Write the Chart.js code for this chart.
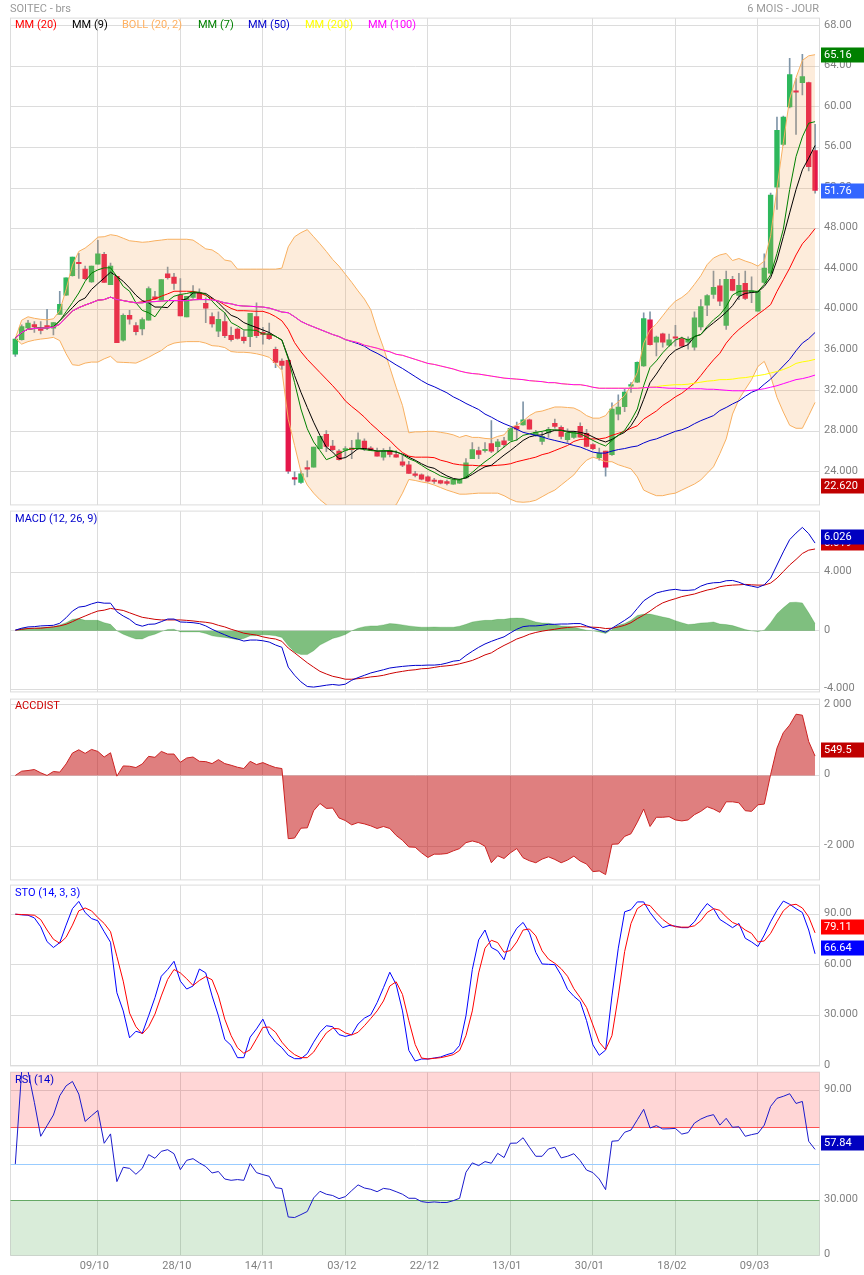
<!DOCTYPE html>
<html>
<head>
<meta charset="utf-8">
<title>SOITEC - brs</title>
<script src="https://cdn.jsdelivr.net/npm/chart.js@4"></script>
<style>
  html, body { margin: 0; padding: 0; background: #fff; overflow: hidden; }
  body { position: relative; width: 864px; height: 1275px; font: 11px Roboto, sans-serif; }
  canvas { position: absolute; left: 0; }
  .txt { position: absolute; line-height: 14px; white-space: nowrap; z-index: 5; }
</style>
</head>
<body>
<div class="txt" style="left:10px;top:2px;color:#999">SOITEC - brs</div>
<div class="txt" style="right:45px;top:2px;color:#999">6 MOIS - JOUR</div>

<div class="txt" style="left:15px;top:18px;color:#ff0000">MM (20)</div>
<div class="txt" style="left:72px;top:18px;color:#000000">MM (9)</div>
<div class="txt" style="left:122px;top:18px;color:#ffb060">BOLL (20, 2)</div>
<div class="txt" style="left:198px;top:18px;color:#008000">MM (7)</div>
<div class="txt" style="left:248px;top:18px;color:#0000cc">MM (50)</div>
<div class="txt" style="left:305px;top:18px;color:#ffff00">MM (200)</div>
<div class="txt" style="left:368px;top:18px;color:#ff00ff">MM (100)</div>

<div class="txt" style="left:15px;top:512px;color:#0000cc">MACD (12, 26, 9)</div>
<div class="txt" style="left:15px;top:699px;color:#cc0000">ACCDIST</div>
<div class="txt" style="left:15px;top:886px;color:#0000ff">STO (14, 3, 3)</div>
<div class="txt" style="left:15px;top:1073px;color:#0000cc">RSI (14)</div>

<canvas id="priceChart"></canvas>
<canvas id="macdChart"></canvas>
<canvas id="accChart"></canvas>
<canvas id="stoChart"></canvas>
<canvas id="rsiChart"></canvas>

<script>
// ================= X AXIS =================
const sessions = [
  0,1,2,3,4,5,6,7,8,9,10,11,12,13,14,15,16,17,18,19,20,21,22,23,24,25,26,27,28,29,
  30,31,32,33,34,35,36,37,38,39,40,41,42,43,44,45,46,47,48,49,50,51,52,53,54,55,56,57,58,59,
  60,61,62,63,64,65,66,67,68,69,70,71,72,73,74,75,76,77,78,79,80,81,82,83,84,85,86,87,88,89,
  90,91,92,93,94,95,96,97,98,99,100,101,102,103,104,105,106,107,108,109,110,111,112,113,114,115,116,117,118,119,
  120,121,122,123,124,125,126
];
const dateTicks = [13, 26, 39, 52, 65, 78, 91, 104, 117];
const dateLabels = ["09/10", "28/10", "14/11", "03/12", "22/12", "13/01", "30/01", "18/02", "09/03"];

// ================= PRICE =================
const opens = [
  35.6,37.04,38.2,38.54,38.08,38.44,38.18,39.54,41.43,43.35,
  44.68,44,42.73,44.5,45.46,42.47,43.28,37,39.45,38.44,
  38.11,38.96,41.27,40.94,43.54,43.22,41.43,39.28,41.2,41.66,
  40.62,39.32,37.89,38.83,37.46,38.08,37.3,37.33,39.32,37.76,
  37.6,36.1,34.93,35,23.44,22.95,24.42,24.46,26.3,27.7,
  26.55,26.05,26.15,26.35,26.3,27.04,26.35,25.99,25.44,26.1,
  25.7,24.98,24.69,23.8,23.7,23.5,23.18,23.15,23.05,22.79,
  22.89,23.4,25.3,26.1,26.1,26.8,26.48,27.07,27.1,28.5,
  28.64,29.13,27.6,27,27.85,28.8,28.4,27.17,27.4,28.5,
  27.8,26.68,25.4,26.05,25.7,29.7,30.44,32.45,32.85,34.46,
  39,36.8,37.63,36.5,37.33,37.15,36.8,36.3,38.3,40.45,
  41.5,42.35,38.45,43,41.4,42.6,41.7,39.85,42.7,43.6,
  52.1,56.3,60,61.6,62.4,62.4,55.7
];
const closes = [
  37.1,38.34,38.67,38.3,37.95,38.28,38.73,40.52,43.15,45.2,
  44.55,43.06,44.3,45.5,42.7,44.3,36.75,39.45,39.06,37.82,
  39.02,42.08,41.07,42.96,43.15,42.6,39.38,41.33,41.72,41.07,
  40.16,38.6,39.06,37.43,37.04,37.17,36.94,39.64,37.43,37.56,
  37.14,34.8,34.5,24.07,23.28,23.8,24.26,26.45,27.5,26.5,
  26.2,25.2,26.3,26.2,27.15,26.3,26.15,25.54,26,25.73,
  25.44,24.65,23.84,23.66,23.28,23.08,23.06,22.89,22.85,23.18,
  23.2,24.9,26.2,25.73,26.22,26.05,26.97,26.68,28.3,28.2,
  29.13,28.2,27.9,27.5,28.2,28.48,27.5,27.8,27.9,27.43,
  26.5,26.3,25.86,24.46,30.2,30.4,31.88,32.6,34.8,39.13,
  36.55,37.3,36.8,37.03,37.2,36.4,37.1,39.2,40.3,41.4,
  42.2,40.85,43,41.9,42.4,41.1,41.85,41.8,44.1,51.3,
  57.7,59,63.2,61.45,63,54.1,51.76
];
const highs = [
  37.15,38.5,38.96,38.83,38.83,40.03,38.73,41.82,43.15,45.2,
  45.56,44.3,44.3,46.84,45.66,44.6,43.28,39.6,39.93,38.73,
  39.2,42.25,41.82,42.96,44.2,43.6,43.06,41.33,42.37,42.05,
  41.17,39.7,39.8,39.7,38.28,38.2,37.92,39.64,40.68,38.25,
  38.67,36.3,35.15,35,24,24.1,25.08,26.45,27.5,28.08,
  27.1,26.2,26.5,27.1,27.85,27.25,26.5,26.35,26.3,26.45,
  26.1,25.63,25.05,24.06,23.8,23.6,23.35,23.2,23.18,23.25,
  23.3,25.3,26.9,26.45,26.9,29.05,27.2,27.4,28.35,28.9,
  30.9,29.2,28.1,27.9,28.4,29.2,28.55,28.25,28,28.84,
  28.2,26.8,26.35,26.05,30.8,31.6,32.2,32.8,34.85,39.7,
  39.8,37.4,37.7,37.6,38.45,37.3,37.33,39.8,41,41.5,
  43.8,43,43.8,43.3,43.6,43.8,43.25,41.85,45.5,51.5,
  59,59.1,64.8,62.8,65.2,62.45,58.3
];
const lows = [
  35.4,37,38.08,37.76,37.6,38.02,37.5,39.54,41.4,43.3,
  43.09,42.96,42.7,44.5,42.7,42.47,36.75,36.9,38.57,37.5,
  37.5,38.96,41,40.94,43,42,39.38,39.28,41.1,41,
  38.73,38.28,37.33,37.24,36.9,37.1,36.7,36.36,37.24,36.6,
  37.04,34.28,34.1,23.84,22.7,22.85,23.5,24.46,26.3,26,
  26.1,25.15,25.4,25.3,26.2,26.1,26.1,25.54,25.15,25.47,
  25.44,24.5,23.84,23.5,23.2,23,22.85,22.8,22.7,22.75,
  22.85,23.35,25.3,25.3,25.95,25.9,25.95,26.45,27.1,27.1,
  28.6,28.2,27.5,26.7,27.4,28.3,27.25,26.9,27.3,27.4,
  26.45,26.2,25.15,23.57,25.63,29.13,29.95,31.85,32.8,34.4,
  36.5,35.45,36.3,36.4,36.4,36.3,36.1,36,38,39.4,
  41.1,40.4,38.05,41.85,41,41,40.7,39.85,42.6,43.5,
  49.9,56.2,59.9,57.3,61.2,53.7,51.5
];
const mm7 = [
  37.17,37.75,38.08,38.15,38.2,38.2,38.34,38.9,39.8,40.7,
  41.65,42.8,43.6,43.93,44.13,44.13,43.28,42.3,41.82,40.68,
  39.93,39.7,39.3,40.2,40.85,41.33,41.5,41.6,41.75,41.72,
  41.5,40.85,40.2,39.7,38.73,38.4,38,38,37.95,37.6,
  37.6,37.37,37,35.15,32.8,30.2,28.25,26.95,26.1,25.2,
  25.45,25.8,26.1,26.3,26.3,26.2,26.1,26.05,26.1,26.1,
  26,25.7,25.3,25.05,24.65,24.25,23.95,23.6,23.4,23.25,
  23.2,23.5,23.95,24.5,25,25.45,25.95,26.45,26.95,27.15,
  27.6,27.75,27.9,28,28.15,28.15,28.1,27.9,27.85,27.75,
  27.45,27.1,26.8,26.55,27.1,27.6,28.1,29.05,30.2,32.5,
  34.3,34.95,35.75,36.4,37,37.25,37,37.35,37.55,38.35,
  39,39.5,40.3,41.45,41.8,41.85,41.85,41.8,42.5,43.45,
  45.55,47.95,51.85,55.1,57.05,58.4,58.55
];
const mm9 = [
  37.17,37.75,38.08,38.15,38.2,38.2,38.3,38.9,39.55,40.2,
  40.85,41.15,42,42.57,43.12,43.7,43.28,42.8,42.15,41.43,
  40.9,40.68,40.26,40.26,40.2,40.9,40.9,41.07,41.66,41.66,
  41.6,41.17,40.68,40.03,39.45,39.2,38.73,38.47,38.24,38,
  37.75,37.37,37,35.3,33.5,31.85,30.35,28.9,27.6,26.45,
  25.95,25.3,25.4,25.8,26.3,26.3,26.2,26.05,26.05,26.05,
  25.95,25.75,25.45,25.15,24.8,24.5,24.35,23.95,23.6,23.35,
  23.25,23.4,23.75,24.15,24.5,24.65,25.15,25.65,26.1,26.6,
  27.1,27.45,27.6,27.65,27.9,28.1,28.1,28,28,27.9,
  27.75,27.45,27.15,26.95,27.2,27.6,27.9,28.55,29.55,31.15,
  32.8,33.65,34.6,35.45,36,36.3,36.55,37.35,37.55,38.2,
  38.7,39.2,39.75,40.4,41.3,41.6,41.7,41.75,42.3,43.15,
  44.9,47.2,49.55,51.85,53.8,54.95,56.2
];
const mm20 = [
  37.17,37.75,38.08,38.15,38.18,38.2,38.28,38.57,39.22,39.87,
  40.2,40.46,40.68,40.94,41,41.24,41,40.9,40.78,40.68,
  40.78,40.9,41.07,41.33,41.56,41.82,41.82,41.82,41.8,41.66,
  41.4,41.07,40.85,40.46,40.13,39.9,39.9,39.87,39.84,39.84,
  39.64,39.32,38.9,38.05,36.75,35.85,35.1,34.45,33.8,33.15,
  32.5,31.8,31,30.45,29.95,29.4,28.75,28.2,27.6,27.1,
  26.45,25.9,25.55,25.45,25.45,25.45,25.4,25.15,25,24.8,
  24.7,24.65,24.65,24.6,24.6,24.6,24.65,24.7,24.8,25,
  25.15,25.3,25.45,25.7,25.85,26.1,26.35,26.6,27,27.2,
  27.25,27.25,27.25,27.35,27.6,27.8,28,28.3,28.55,29.2,
  29.6,30,30.55,30.95,31.4,31.75,32.25,32.75,33.5,34.3,
  35.05,35.7,36.7,37.45,38.05,38.55,39.05,39.55,40,40.5,
  41.8,42.95,44.1,45.4,46.5,47.2,48
];
const mm50 = [
  37.17,37.75,38.08,38.15,38.18,38.2,38.28,38.57,39.22,39.87,
  40.2,40.46,40.68,40.94,41,41.24,41,40.9,40.78,40.68,
  40.68,40.78,40.8,40.85,40.9,40.9,40.9,40.88,40.98,41,
  41,40.98,40.85,40.68,40.58,40.42,40.36,40.33,40.3,40.26,
  40.16,39.97,39.77,39.7,39.3,38.85,38.55,38.3,38.05,37.8,
  37.55,37.35,37.05,36.85,36.65,36.4,36,35.7,35.35,34.95,
  34.55,34.2,33.8,33.4,33,32.65,32.4,32.1,31.8,31.4,
  31.1,30.75,30.45,30.15,29.7,29.4,29.05,28.75,28.5,28.2,
  27.9,27.75,27.6,27.45,27.25,27.1,26.95,26.8,26.6,26.45,
  26.2,25.95,25.85,25.85,26.05,26.2,26.3,26.45,26.55,26.85,
  27.1,27.25,27.5,27.75,28,28.15,28.4,28.75,29.05,29.3,
  29.55,30.05,30.35,30.7,31,31.45,31.85,32.1,32.65,33.15,
  33.8,34.45,35.1,35.95,36.7,37.15,37.75
];
const mm100 = [
  37.17,37.75,38.08,38.15,38.18,38.2,38.28,38.57,39.22,39.87,
  40.2,40.46,40.68,40.94,41,41.24,41,40.9,40.78,40.68,
  40.68,40.78,40.8,40.85,40.9,40.9,40.9,40.88,40.98,41,
  41,40.98,40.85,40.68,40.58,40.42,40.36,40.33,40.3,40.26,
  40.16,39.97,39.77,39.7,39.3,38.85,38.55,38.3,38.05,37.8,
  37.55,37.35,37.05,36.9,36.75,36.5,36.35,36.2,36,35.85,
  35.6,35.5,35.3,35.1,34.9,34.7,34.6,34.45,34.3,34.15,
  33.95,33.8,33.7,33.65,33.55,33.45,33.35,33.25,33.2,33.15,
  33.1,33,32.95,32.9,32.8,32.8,32.7,32.65,32.6,32.6,
  32.5,32.35,32.25,32.25,32.25,32.25,32.25,32.25,32.25,32.3,
  32.35,32.35,32.3,32.25,32.25,32.2,32.2,32.2,32.2,32.15,
  32.15,32.1,32.05,32,32,32,32.05,32.1,32.2,32.35,
  32.5,32.7,32.9,33.1,33.2,33.35,33.55
];
const mm200 = [
  37.17,37.75,38.08,38.15,38.18,38.2,38.28,38.57,39.22,39.87,
  40.2,40.46,40.68,40.94,41,41.24,41,40.9,40.78,40.68,
  40.68,40.78,40.8,40.85,40.9,40.9,40.9,40.88,40.98,41,
  41,40.98,40.85,40.68,40.58,40.42,40.36,40.33,40.3,40.26,
  40.16,39.97,39.77,39.7,39.3,38.85,38.55,38.3,38.05,37.8,
  37.55,37.35,37.05,36.9,36.75,36.5,36.35,36.2,36,35.85,
  35.6,35.5,35.3,35.1,34.9,34.7,34.6,34.45,34.3,34.15,
  33.95,33.8,33.7,33.65,33.55,33.45,33.35,33.25,33.2,33.15,
  33.1,33,32.95,32.9,32.8,32.8,32.7,32.65,32.6,32.6,
  32.5,32.35,32.25,32.25,32.25,32.25,32.25,32.25,32.25,32.3,
  32.35,32.4,32.5,32.55,32.6,32.6,32.65,32.75,32.85,32.95,
  33,33.1,33.1,33.15,33.25,33.3,33.4,33.5,33.6,33.75,
  33.9,34.1,34.35,34.7,34.85,34.95,35.1
];
const bollUp = [
  37.17,38.96,39.3,39.15,39.05,39,39.1,39.9,42,44.4,
  45.75,46.08,46.57,47.16,47.2,47.4,47.3,47.05,46.8,46.73,
  46.65,46.7,46.8,46.87,46.95,46.95,46.95,46.95,46.87,46.45,
  46,45.9,45.5,44.9,44.78,44,44,44,44,44,
  44,44,44.1,46.2,47.2,47.6,47.9,47.2,46.5,45.75,
  44.95,44.3,43.5,42.7,41.85,41.05,40,38,36.25,34.3,
  32.35,30.55,27.85,27.95,27.95,28,28,27.9,27.8,27.65,
  27.4,27.6,27.4,27.4,27.3,27.25,27.5,27.65,28.4,28.6,
  29,29.55,29.9,30,30.2,30.4,30.4,30.35,30.3,30,
  29.55,29.3,29.3,29.55,30.4,30.9,31.55,32.5,33.8,36.7,
  38,38.6,39.4,40.2,40.85,41.2,41.7,42.5,43.35,44.45,
  45.1,45.4,45.55,44.85,45.05,44.8,44.6,44.3,44.8,47.3,
  52,56.5,60.8,62.9,64.6,65.05,65.16
];
const bollLow = [
  37.17,36.6,36.85,37,37.1,37.17,37.27,36.95,35.65,34.57,
  34.5,34.73,34.83,34.83,35.15,35.4,34.83,34.8,34.77,34.73,
  35,35.3,35.65,35.97,36.45,36.7,36.8,36.85,36.85,36.85,
  36.7,36.45,36.4,36.26,35.87,35.8,35.8,35.75,35.65,35.5,
  35.3,34.67,34,29.2,26.6,24,22.7,21.9,21.25,20.75,
  20.3,20,19.7,19.6,19.8,20,20.1,20.2,20.3,20.4,
  20.75,21.9,23.25,23.15,23,22.9,22.7,22.45,22.2,22,
  21.8,21.8,21.85,21.9,21.9,21.9,21.9,21.65,21.3,21.05,
  21,21.05,21.2,21.55,21.9,22.2,22.7,23.2,23.7,24.5,
  25.15,25.45,25.25,25,25,24.7,24.5,24.3,23.5,22.2,
  21.9,21.65,21.65,21.8,21.9,22.2,22.5,22.8,23.2,23.85,
  24.5,25.8,27.25,29.7,31.15,32.15,33.1,34.4,34.9,33.45,
  31.35,29.9,28.6,28.3,28.3,29.55,30.85
];
const priceTicks = [68, 64, 60, 56, 52, 48, 44, 40, 36, 32, 28, 24];
const priceLabels = ["68.00", "64.00", "60.00", "56.00", "52.00", "48.000", "44.000", "40.000", "36.000", "32.000", "28.000", "24.000"];

// ================= MACD =================
const macdLine = [
  0.05,0.18,0.27,0.29,0.34,0.36,0.38,0.52,0.9,1.36,
  1.63,1.69,1.85,1.97,1.9,1.9,1.31,1.02,0.79,0.45,
  0.32,0.45,0.47,0.63,0.81,0.81,0.61,0.59,0.56,0.5,
  0.34,0.11,-0.09,-0.27,-0.45,-0.56,-0.7,-0.63,-0.63,-0.68,
  -0.77,-0.97,-1.13,-2.49,-3.05,-3.5,-3.82,-3.86,-3.8,-3.73,
  -3.68,-3.73,-3.66,-3.39,-3.21,-3.05,-2.89,-2.78,-2.67,-2.55,
  -2.49,-2.44,-2.4,-2.37,-2.37,-2.35,-2.35,-2.31,-2.21,-2.08,
  -2.03,-1.69,-1.4,-1.13,-0.9,-0.72,-0.56,-0.41,-0.14,0.11,
  0.29,0.34,0.34,0.38,0.45,0.45,0.47,0.47,0.5,0.5,
  0.34,0.18,0.05,-0.09,0.18,0.45,0.72,1.02,1.54,2.06,
  2.35,2.6,2.71,2.8,2.85,2.78,2.78,2.82,3.07,3.23,
  3.3,3.32,3.44,3.46,3.34,3.16,3.07,2.98,3.16,3.62,
  4.52,5.42,6.26,6.71,7.1,6.67,6.026
];
const macdSignal = [
  0.05,0.1,0.16,0.18,0.18,0.23,0.27,0.34,0.45,0.63,
  0.84,1.02,1.2,1.36,1.42,1.54,1.47,1.4,1.24,1.08,
  0.93,0.86,0.79,0.75,0.75,0.75,0.75,0.72,0.68,0.63,
  0.59,0.52,0.38,0.27,0.11,-0.02,-0.16,-0.23,-0.29,-0.41,
  -0.5,-0.56,-0.72,-1.18,-1.51,-1.85,-2.19,-2.49,-2.78,-2.96,
  -3.12,-3.21,-3.32,-3.32,-3.28,-3.23,-3.16,-3.12,-3.05,-2.94,
  -2.85,-2.78,-2.71,-2.67,-2.6,-2.58,-2.51,-2.44,-2.4,-2.35,
  -2.26,-2.15,-2.03,-1.85,-1.65,-1.51,-1.24,-1,-0.79,-0.56,
  -0.41,-0.23,-0.11,-0.02,0.05,0.11,0.18,0.23,0.27,0.29,
  0.27,0.25,0.23,0.16,0.18,0.27,0.38,0.56,0.84,1.08,
  1.36,1.67,1.92,2.08,2.21,2.35,2.44,2.53,2.67,2.8,
  2.89,3.03,3.1,3.14,3.16,3.19,3.16,3.14,3.14,3.28,
  3.62,4.07,4.52,4.9,5.31,5.54,5.619
];
const macdHist = [
  0.05,0.18,0.18,0.18,0.23,0.25,0.29,0.41,0.56,0.79,
  0.84,0.72,0.72,0.72,0.56,0.45,0,-0.23,-0.41,-0.56,
  -0.56,-0.36,-0.23,-0.05,0.09,0.11,-0.07,-0.07,-0.07,-0.07,
  -0.18,-0.34,-0.41,-0.45,-0.52,-0.61,-0.52,-0.34,-0.32,-0.27,
  -0.29,-0.34,-0.45,-1.02,-1.47,-1.63,-1.63,-1.36,-0.97,-0.75,
  -0.52,-0.41,-0.25,0,0.18,0.29,0.34,0.34,0.41,0.5,
  0.47,0.41,0.34,0.29,0.25,0.25,0.27,0.25,0.25,0.25,
  0.32,0.45,0.61,0.68,0.72,0.72,0.79,0.79,0.86,0.88,
  0.86,0.75,0.61,0.54,0.52,0.43,0.34,0.32,0.25,0.14,
  0.05,0,-0.07,-0.18,0.09,0.38,0.5,0.72,1.06,1.15,
  1.15,1.06,0.95,0.86,0.7,0.56,0.43,0.47,0.54,0.56,
  0.61,0.47,0.43,0.36,0.23,0.09,0,-0.05,0.05,0.56,
  1.18,1.58,1.94,1.97,1.92,1.24,0.5
];
const macdTicks = [4, 0, -4];
const macdLabels = ["4.000", "0", "-4.000"];

// ================= ACCDIST =================
const accDist = [
  0,121,140,168,75,0,112,93,326,634,
  727,625,737,681,522,643,-19,270,261,224,
  326,541,513,681,606,606,373,494,522,401,
  392,336,448,336,289,233,196,401,308,364,
  289,224,196,-1790,-1772,-1492,-1483,-998,-793,-932,
  -923,-1203,-1277,-1399,-1333,-1371,-1427,-1501,-1445,-1501,
  -1697,-1837,-2023,-2033,-2191,-2322,-2228,-2228,-2210,-2135,
  -2070,-1902,-1855,-1902,-2005,-2471,-2275,-2350,-2191,-2070,
  -2331,-2415,-2471,-2368,-2303,-2378,-2471,-2396,-2284,-2424,
  -2508,-2723,-2704,-2807,-1949,-1939,-1725,-1650,-1324,-951,
  -1445,-1184,-1184,-1166,-1259,-1287,-1259,-1110,-1016,-886,
  -951,-1044,-746,-746,-774,-998,-1016,-830,-811,28,
  774,1212,1427,1734,1706,960,549.5
];
const accTicks = [2000, 0, -2000];
const accLabels = ["2 000", "0", "-2 000"];

// ================= STOCHASTIC =================
const stoK = [
  90.2,89.8,89.6,88,82.7,73.9,70.4,73.3,83.7,93.5,
  97.8,91.2,87.6,86.3,79.8,73.5,43.5,32.7,16.7,20.6,
  19.4,29.8,40.6,53.3,57.3,62.2,50.4,45.7,47.5,57.6,
  55.3,41.6,29.8,15.7,12.2,4.9,4.9,17.1,22,27.8,
  19,14.1,10.8,6.3,4.3,4.3,7.3,14.1,20,23.9,
  23.3,18.6,17.5,18.6,24.9,28.4,30.4,37.6,46.5,55.7,
  48.4,32.7,9.2,2.9,4.1,4.1,4.7,5.3,6.7,7.8,
  12.2,29.8,57.3,74.9,80.8,70.4,68.4,63.1,75.3,81.8,
  85.3,79.2,67.5,60.6,60.4,60.2,53.9,45.5,41.4,38.2,
  26.9,12.5,6.3,9.4,41.6,70,91.6,92.9,97.5,97.5,
  91.2,86.3,82.2,83.5,83.1,82.2,82.2,85.7,91.6,96.5,
  93.5,87.1,84.7,82.2,84.7,75.9,73.7,71,77.8,85.7,
  92.5,98,96.1,93.5,91.2,80.8,66.64
];
const stoD = [
  90.2,90,89.8,89.6,87,80.8,75.3,72.9,76.5,83.7,
  92.2,93.9,92.2,88.2,84.7,79.8,65.1,50.4,31.4,23.3,
  19,23.3,30.8,41.6,51.4,57.3,55.3,51.8,47.8,50.8,
  53.1,51.2,41.6,27.8,18,10.8,7.5,9.6,16.1,22.9,
  23.1,20,14.1,9.8,6.7,4.9,4.9,8.2,14.1,19.6,
  22.4,22,19.6,18.4,20,23.9,28.2,32.7,38.6,47.5,
  50,42.5,26.9,12.7,4.7,4.1,4.5,4.9,5.7,6.7,
  9.2,18,32.7,55.3,70,74.7,73.3,67.6,68.6,73.7,
  80.8,81.4,77.3,68.4,63.5,61,57.8,53.3,45.9,40.6,
  34.7,24.3,14.1,9.6,18,41.6,68,84.7,93.5,96.1,
  95.3,91,87.1,84.3,82.7,82.5,82.5,83.3,86.3,91.2,
  93.5,92.5,88.6,85.3,83.7,80.8,78.8,73.7,74.3,78.8,
  85.7,92.2,95.5,96.1,93.9,88.6,79.11
];
const stoTicks = [90, 60, 30, 0];
const stoLabels = ["90.00", "60.00", "30.000", "0"];

// ================= RSI =================
const rsiLine = [
  49.9,100.5,100.5,83.5,65,70.8,76.6,87.1,92.5,94.9,
  88,73.1,76.2,79.1,61.2,66.3,40.3,48.1,47.5,44.3,
  47.5,55,53,56.8,57.7,55.5,46.8,51.9,52.8,50.5,
  48.5,45,45.8,41.7,41,41.4,41,50.1,45.2,44.1,
  43.2,37,36.5,21,20.7,22.3,24,31.4,35,33.4,
  32.7,31,32.1,35.4,38.5,36.8,36.1,34.8,36.6,36.1,
  34.8,33.4,31.2,31.2,29.4,28.9,29.2,28.9,28.9,29.9,
  31.2,45.4,50.5,49,51.2,50.3,55.7,53.4,61.2,61.3,
  64.2,59,54.1,54.1,58.1,59,53.2,54.1,55.5,51.7,
  46.6,45.2,41.7,35.9,62.3,62.6,67.2,68.4,74,79.7,
  69.5,70.8,69,69.1,69.3,66.2,67,72.2,74.4,75.9,
  76.8,71.1,74.8,69.9,70.2,65,65.9,66.6,71.1,81.3,
  85.7,86.8,88.2,82.9,84,62.3,57.84
];
const rsiTicks = [90, 60, 30, 0];
const rsiLabels = ["90.00", "60.00", "30.000", "0"];
const rsiOverbought = 70;
const rsiMiddle = 50;
const rsiOversold = 30;

// ================= HELPERS =================
const GRID = "#dcdcdc";
const FONT = { family: "Roboto", size: 11 };

function line(label, data, color, order, extra) {
  return Object.assign({
    type: "line", label, data, borderColor: color, borderWidth: 1,
    pointRadius: 0, tension: 0, fill: false, order
  }, extra || {});
}

// last value boxes on the right side, placed with the panel's own scale
function badgePlugin(badges, shift) {
  return {
    id: "badges",
    afterDraw(chart) {
      const c = chart.ctx;
      c.save();
      c.font = "11px Roboto";
      c.textBaseline = "middle";
      badges.forEach(b => {
        const mid = Math.round(chart.scales.y.getPixelForValue(b.value) + shift);
        c.fillStyle = b.color;
        c.fillRect(821, mid - 7.5, 43, 15);
        c.fillStyle = "#fff";
        c.fillText(b.text, 824, mid + 0.5);
      });
      c.restore();
    }
  };
}

const framePlugin = {
  id: "frame",
  beforeDatasetsDraw(chart) {
    const a = chart.chartArea, c = chart.ctx;
    c.save();
    c.strokeStyle = GRID;
    c.lineWidth = 1;
    c.strokeRect(a.left, a.top, a.right - a.left, a.bottom - a.top);
    c.restore();
  }
};

// RSI zones run across the whole panel, not only from first to last session
const zonePlugin = {
  id: "zones",
  beforeDatasetsDraw(chart) {
    const a = chart.chartArea, c = chart.ctx, y = chart.scales.y;
    const hi = y.getPixelForValue(rsiOverbought), mid = y.getPixelForValue(rsiMiddle), lo = y.getPixelForValue(rsiOversold);
    const w = a.right - a.left;
    c.save();
    c.fillStyle = "rgba(255,0,0,0.16)";
    c.fillRect(a.left, a.top, w, hi - a.top);
    c.fillStyle = "rgba(0,128,0,0.15)";
    c.fillRect(a.left, lo, w, a.bottom - lo);
    c.lineWidth = 1;
    [[hi, "#ff5050"], [mid, "#99ccff"], [lo, "#64a864"]].forEach(([p, col]) => {
      c.strokeStyle = col;
      c.beginPath();
      c.moveTo(a.left, Math.round(p) + 0.5);
      c.lineTo(a.right, Math.round(p) + 0.5);
      c.stroke();
    });
    c.restore();
  }
};

function makePanel(cfg) {
  const el = document.getElementById(cfg.id);
  const canvasTop = Math.floor(cfg.top) - 10;
  const height = cfg.last ? 1275 - canvasTop : Math.ceil(cfg.bottom) + 9 - canvasTop;
  el.width = 864;
  el.height = height;
  el.style.top = canvasTop + "px";
  el.style.width = "864px";
  el.style.height = height + "px";

  const axisH = cfg.last ? height - (cfg.bottom - canvasTop) : 0;

  return new Chart(el.getContext("2d"), {
    type: "bar",
    data: { labels: sessions, datasets: cfg.datasets },
    plugins: [framePlugin].concat(cfg.plugins || []),
    options: {
      responsive: false,
      animation: false,
      devicePixelRatio: 1,
      layout: {
        padding: { left: 10.5, right: 0, top: cfg.top - canvasTop, bottom: cfg.last ? 0 : height - (cfg.bottom - canvasTop) }
      },
      plugins: { legend: { display: false }, tooltip: { enabled: false } },
      scales: {
        x: {
          type: "linear",
          bounds: "data",
          offset: false,
          min: -0.76,
          max: 126.7,
          afterBuildTicks: s => { s.ticks = dateTicks.map(v => ({ value: v })); },
          afterFit: s => { s.height = axisH; },
          grid: { color: GRID, drawTicks: false, offset: false },
          border: { display: false },
          ticks: {
            display: !!cfg.last,
            autoSkip: false,
            maxRotation: 0,
            padding: 4,
            labelOffset: -3.5,
            color: "#808080",
            font: FONT,
            callback: (v, i) => dateLabels[i]
          }
        },
        y: {
          type: "linear",
          position: "right",
          bounds: "data",
          min: cfg.min,
          max: cfg.max,
          afterBuildTicks: s => { s.ticks = cfg.ticks.map(v => ({ value: v })); },
          afterFit: s => { s.width = 44.5; },
          grid: { color: GRID, drawTicks: false },
          border: { display: false },
          ticks: {
            autoSkip: false,
            padding: 4.5,
            labelOffset: -1,
            color: "#808080",
            font: FONT,
            callback: (v, i) => cfg.labels[i]
          }
        }
      }
    }
  });
}

// ================= PRICE PANEL =================
const wickData = lows.map((l, i) => [l, highs[i]]);
const bodyData = opens.map((o, i) => [o, closes[i]]);
const bodyColors = opens.map((o, i) => (closes[i] >= o ? "#2eb85c" : "#e5174a"));

makePanel({
  id: "priceChart", top: 17.5, bottom: 506.5, min: 20.74, max: 68.77,
  ticks: priceTicks, labels: priceLabels,
  plugins: [badgePlugin([
    { value: 65.16, text: "65.16", color: "#008000" },
    { value: 51.76, text: "51.76", color: "#3366ff" },
    { value: 22.62, text: "22.620", color: "#c00000" }
  ], 0)],
  datasets: [
    { type: "bar", label: "wick", data: wickData, backgroundColor: "#7f95a8", barThickness: 1, grouped: false, order: 21 },
    { type: "bar", label: "body", data: bodyData, backgroundColor: bodyColors, barThickness: 4.7, grouped: false, order: 20 },
    // band goes first so its tint does not dull the averages
    line("BOLL up", bollUp, "#f8b060", 10, { fill: "+1", backgroundColor: "rgba(245,160,75,0.2)" }),
    line("BOLL low", bollLow, "#f8b060", 9),
    line("MM (20)", mm20, "#ff0000", 8),
    line("MM (9)", mm9, "#000000", 7),
    line("MM (7)", mm7, "#008000", 5),
    line("MM (50)", mm50, "#0000cc", 4),
    line("MM (200)", mm200, "#ffff00", 3),
    line("MM (100)", mm100, "#ff00ff", 2)
  ]
});

// ================= MACD PANEL =================
makePanel({
  id: "macdChart", top: 510.5, bottom: 693.5, min: -4.19, max: 8.22,
  ticks: macdTicks, labels: macdLabels,
  plugins: [badgePlugin([
    { value: 5.619, text: "5.619", color: "#cc0000" },
    { value: 6.026, text: "6.026", color: "#0000c0" }
  ], -6)],
  datasets: [
    line("hist", macdHist, "rgba(0,128,0,0.2)", 3, { fill: "origin", backgroundColor: "rgba(0,128,0,0.5)", borderWidth: 1 }),
    line("signal", macdSignal, "#cc0000", 2),
    line("MACD (12, 26, 9)", macdLine, "#0000cc", 1)
  ]
});

// ================= ACCDIST PANEL =================
makePanel({
  id: "accChart", top: 698.5, bottom: 881.5, min: -2957, max: 2162,
  ticks: accTicks, labels: accLabels,
  plugins: [badgePlugin([{ value: 549.5, text: "549.5", color: "#c00000" }], -6)],
  datasets: [
    line("ACCDIST", accDist, "#cc2222", 1, { fill: "origin", backgroundColor: "rgba(192,0,0,0.5)" })
  ]
});

// ================= STO PANEL =================
makePanel({
  id: "stoChart", top: 884.5, bottom: 1067.5, min: 0, max: 107.5,
  ticks: stoTicks, labels: stoLabels,
  plugins: [badgePlugin([
    { value: 79.11, text: "79.11", color: "#ff0000" },
    { value: 66.64, text: "66.64", color: "#0000ff" }
  ], -6)],
  datasets: [
    line("%K", stoK, "#0000ff", 2),
    line("%D", stoD, "#ff0000", 1)
  ]
});

// ================= RSI PANEL =================
makePanel({
  id: "rsiChart", top: 1071.5, bottom: 1255.5, min: 0, max: 100, last: true,
  ticks: rsiTicks, labels: rsiLabels,
  plugins: [zonePlugin, badgePlugin([{ value: 57.84, text: "57.84", color: "#0000c0" }], -6)],
  datasets: [
    line("RSI (14)", rsiLine, "#1a1acc", 1)
  ]
});
</script>
</body>
</html>
